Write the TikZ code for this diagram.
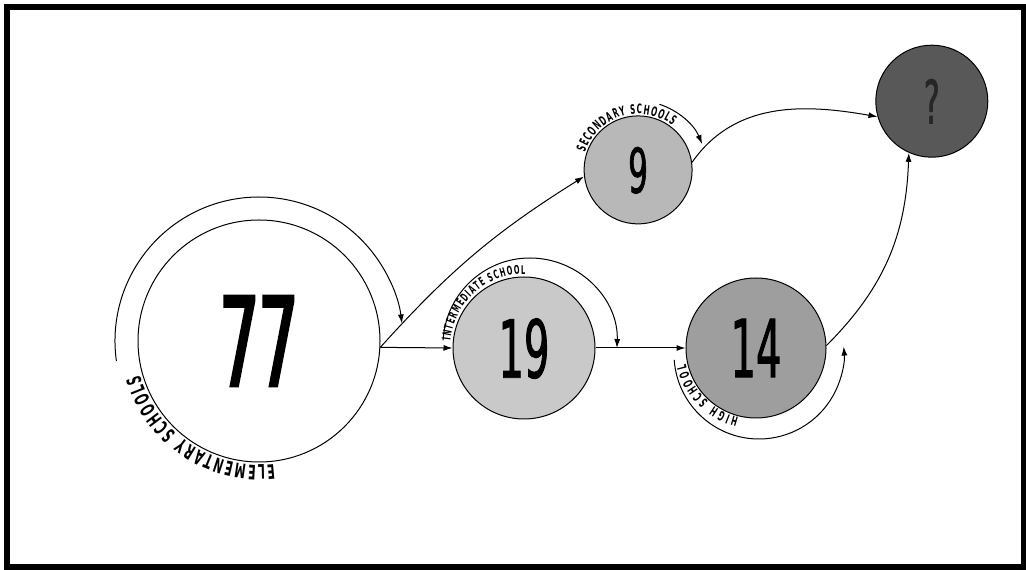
\documentclass[tikz,border=0pt]{standalone}
\usepackage{fontspec}
\usepackage{tikz}
\usepackage{xcolor}
\usetikzlibrary{positioning, arrows.meta, decorations.text}
\setmainfont{DejaVu Sans}
\newfontfamily\numfont[FakeStretch=0.5, FakeBold=1]{DejaVu Sans}
\newfontfamily\bignumfont[FakeStretch=0.5, FakeBold=2.5]{DejaVu Sans}
\newfontfamily\lblfont[FakeStretch=0.55]{DejaVu Sans Bold}
\definecolor{interfill}{RGB}{201,201,201}
\definecolor{secfill}{RGB}{184,184,184}
\definecolor{highfill}{RGB}{158,158,158}
\definecolor{qfill}{RGB}{88,88,88}

\begin{document}
\begin{tikzpicture}[x=1pt, y=1pt, line width=1pt, >={Latex[length=9pt,width=6pt]}, main/.style = {draw, circle, inner sep=0pt, text depth=0pt}, along/.style = {decorate, decoration={text along path, text align=fit to path, text={#1}}}]
        \useasboundingbox (0,0) rectangle (1026,570);
        \draw[line width=6pt] (7,2.5) rectangle (1024,563);

        \node[main, minimum size=242pt, fill=white, font=\bignumfont\fontsize{123}{123}\selectfont] (E) at (259,229) {77};
        \node[main, minimum size=142pt, fill=interfill, font=\numfont\fontsize{80}{80}\selectfont] (I) [right=72pt of E, yshift=-7pt] {19};
        \node[main, minimum size=140pt, fill=highfill, font=\numfont\fontsize{80}{80}\selectfont] (H) [right=90pt of I] {14};
        \node[main, minimum size=108pt, fill=secfill, font=\numfont\fontsize{62}{62}\selectfont] (S) [above right=89pt and 25pt of I] {9};
        \node[main, minimum size=112pt, fill=qfill, text=black!85, font=\numfont\fontsize{60}{60}\selectfont] (Q) [above right=157pt and 86pt of H] {?};

        \draw[->] (E.-3) -- (I.west);
        \draw[->] (E.-3) to[bend left=8] (S.187);
        \draw[->] (I.east) -- (H.west);
        \draw[->] (S.8) to[out=55, in=170] (Q.196);
        \draw[->] (H.2) to[out=45, in=-92] (Q.246);

        \draw[->] (E.center) ++(188:144) arc[start angle=188, end angle=7, radius=144];
        \draw[->] ([shift={(6,3)}]I.center) ++(177:87) arc[start angle=177, end angle=-2, radius=87];
        \draw[->] (S.center) ++(72:69) arc[start angle=72, end angle=22, radius=69];
        \draw[->] ([shift={(3,-6)}]H.center) ++(184:85) arc[start angle=184, end angle=365, radius=85];

        \path[along={|\lblfont\fontsize{20}{20}\selectfont|ELEMENTARY SCHOOLS}] (E.center) ++(277:124) arc[start angle=277, end angle=196, radius=124];
        \path[along={|\lblfont\fontsize{12}{12}\selectfont|INTERMEDIATE SCHOOL}] (I.center) ++(174:74) arc[start angle=174, end angle=89, radius=74];
        \path[along={|\lblfont\fontsize{13}{13}\selectfont|SECONDARY SCHOOLS}] (S.center) ++(162:56) arc[start angle=162, end angle=52, radius=56];
        \path[along={|\lblfont\fontsize{13}{13}\selectfont|HIGH SCHOOL}] (H.center) ++(256:72) arc[start angle=256, end angle=193, radius=72];
    \end{tikzpicture}
\end{document}
